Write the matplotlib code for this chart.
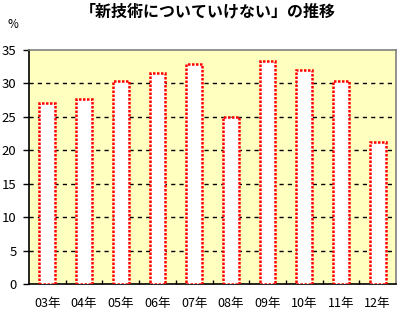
import matplotlib
matplotlib.use("Agg")
import matplotlib.pyplot as plt
import numpy as np

plt.rcParams['font.family'] = ['Noto Sans CJK JP', 'DejaVu Sans']

# data
years = ['03年', '04年', '05年', '06年', '07年', '08年', '09年', '10年', '11年', '12年']
values = [27.0, 27.6, 30.4, 31.5, 32.9, 25.0, 33.4, 32.0, 30.4, 21.2]
title = '「新技術についていけない」の推移'

fig = plt.figure(figsize=(4.01, 3.11), dpi=100)
ax = fig.add_axes([29 / 401, 27 / 311, 367 / 401, 234 / 311])
ax.set_facecolor('#ffffc0')

x = np.arange(len(years))
ax.bar(x, values, width=0.43, color='white', edgecolor='red',
       linewidth=1.8, linestyle=(0, (1, 0.6)), zorder=3)

ax.set_xlim(-0.5, len(years) - 0.5)
ax.set_ylim(0, 35)
ax.set_yticks(range(0, 36, 5))
ax.tick_params(axis='y', direction='out', length=4, width=1, labelsize=9.5, pad=5)

# category labels centred, tick marks at boundaries pointing in
ax.set_xticks(x)
ax.set_xticklabels(years, fontsize=9)
ax.tick_params(axis='x', length=0, pad=9)
ax.set_xticks(np.arange(0.5, len(years) - 0.5, 1), minor=True)
ax.tick_params(axis='x', which='minor', direction='in', length=3, width=1)

for v in range(5, 35, 5):
    ax.axhline(v, color='black', linestyle=(0, (3, 3)), linewidth=1, zorder=1)

ax.spines['left'].set_color('black')
ax.spines['bottom'].set_color('black')
ax.spines['top'].set_color('#808080')
ax.spines['right'].set_color('#808080')
for s in ax.spines.values():
    s.set_linewidth(1.2)

fig.text(208 / 401, 1 - 11 / 311, title, ha='center', va='center',
         fontsize=11.5, fontweight='bold')
fig.text(13 / 401, 1 - 24 / 311, '%', ha='center', va='center', fontsize=8.5)

fig.savefig('out.png', dpi=100)
